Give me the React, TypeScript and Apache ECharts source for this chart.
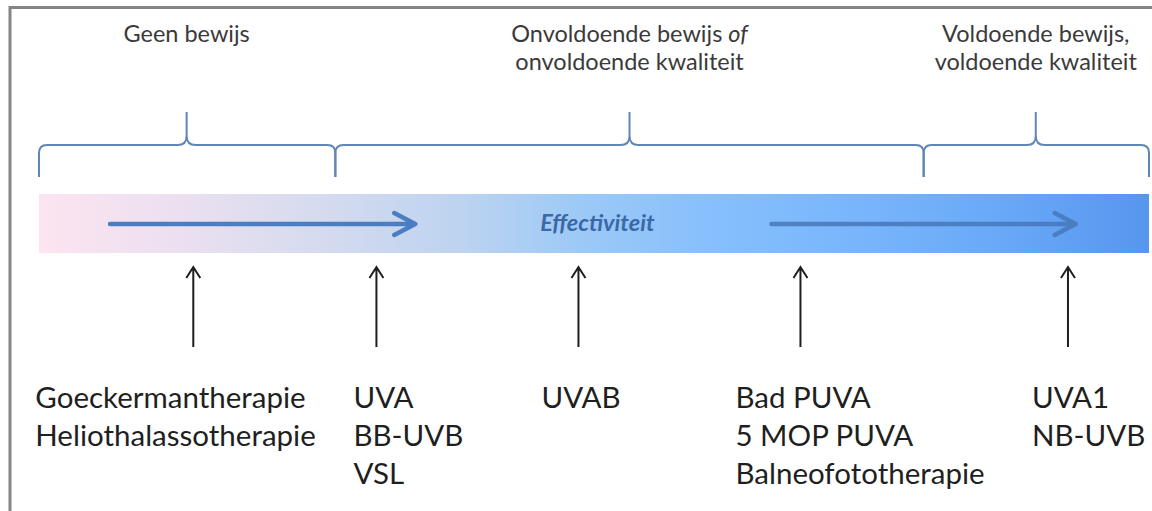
import { useEffect, useRef } from "react";
import * as echarts from "echarts";

// Evidence groups (positions on the effectiveness scale 0–100)
const groupLabels = [
  "Geen bewijs",
  "Onvoldoende bewijs {i|of}\nonvoldoende kwaliteit",
  "Voldoende bewijs,\nvoldoende kwaliteit",
];
const groupStart = [0, 26.7, 79.7];
const groupEnd = [26.7, 79.7, 100];
const groupPeak = [13.3, 53.2, 89.8];

// Effectiveness axis
const axisTitle = "Effectiviteit";
const axisTitlePos = 50.3;
const effectArrowStart = [6.4, 66.0];
const effectArrowEnd = [33.9, 93.4];

// Therapies and their place on the effectiveness scale
const therapyPos = [13.9, 30.4, 48.6, 68.6, 92.7];
const therapyLabels = [
  ["Goeckermantherapie", "Heliothalassotherapie"],
  ["UVA", "BB-UVB", "VSL"],
  ["UVAB"],
  ["Bad PUVA", "5 MOP PUVA", "Balneofototherapie"],
  ["UVA1", "NB-UVB"],
];

// layout (pixels)
const labelOffset = [-158, -23, -37, -65, -36];
const FONT = "Lato, 'Open Sans', sans-serif";

export default function App() {
  const ref = useRef<HTMLDivElement>(null);
  useEffect(() => {
    if (!ref.current) return;
    const chart = echarts.init(ref.current, undefined, { renderer: "svg" });
    const px = (api: any, v: number) => api.coord([v, 0])[0];

    const option: any = {
      animation: false,
      backgroundColor: "#ffffff",
      grid: { left: 39, right: 3, top: 0, bottom: 0 },
      xAxis: { type: "value", min: 0, max: 100, show: false },
      yAxis: { type: "value", min: 0, max: 1, show: false },
      graphic: [
        {
          type: "polyline",
          shape: { points: [[10, 511], [10, 7.5], [1152, 7.5]] },
          style: { stroke: "#858585", lineWidth: 3, fill: null },
          z: 0,
        },
      ],
      series: [
        // gradient band
        {
          type: "custom",
          z: 1,
          silent: true,
          data: [[0, 100]],
          renderItem: (params: any, api: any) => {
            const x0 = px(api, api.value(0));
            const x1 = px(api, api.value(1));
            return {
              type: "rect",
              shape: { x: x0, y: 194, width: x1 - x0, height: 59 },
              style: {
                fill: new echarts.graphic.LinearGradient(0, 0, 1, 0, [
                  { offset: 0, color: "#fde4f0" },
                  { offset: 0.12, color: "#ece0f0" },
                  { offset: 0.25, color: "#d6dbef" },
                  { offset: 0.38, color: "#bdd3f0" },
                  { offset: 0.48, color: "#9ecaf6" },
                  { offset: 0.6, color: "#87c0fc" },
                  { offset: 0.75, color: "#77b4fb" },
                  { offset: 0.88, color: "#67a7f6" },
                  { offset: 1, color: "#5796ee" },
                ]),
              },
            };
          },
        },
        // braces
        {
          type: "custom",
          z: 2,
          silent: true,
          data: groupStart.map((s, i) => [s, groupEnd[i], groupPeak[i]]),
          renderItem: (params: any, api: any) => {
            const a = px(api, api.value(0));
            const b = px(api, api.value(1));
            const p = px(api, api.value(2));
            const yH = 145, yB = 177, yT = 112, r = 8, rp = 9;
            const d =
              `M${a},${yB} L${a},${yH + r} Q${a},${yH} ${a + r},${yH} ` +
              `L${p - rp},${yH} Q${p},${yH} ${p},${yH - rp} L${p},${yT} ` +
              `M${p},${yH - rp} Q${p},${yH} ${p + rp},${yH} ` +
              `L${b - r},${yH} Q${b},${yH} ${b},${yH + r} L${b},${yB}`;
            return {
              type: "path",
              shape: { pathData: d },
              style: { stroke: "#5f86b4", lineWidth: 2, fill: null },
            };
          },
        },
        // header labels
        {
          type: "custom",
          z: 3,
          silent: true,
          data: groupPeak.map((p) => [p]),
          renderItem: (params: any, api: any) => {
            const x = px(api, api.value(0));
            return {
              type: "text",
              x,
              y: 19,
              style: {
                text: groupLabels[params.dataIndex],
                fill: "#3a3a3a",
                fontSize: 23.5,
                fontFamily: FONT,
                align: "center",
                verticalAlign: "top",
                lineHeight: 28,
                rich: {
                  i: { fontStyle: "italic", fontSize: 23.5, fontFamily: FONT, fill: "#3a3a3a", lineHeight: 28 },
                },
              },
            };
          },
        },
        // effect arrows
        {
          type: "custom",
          z: 3,
          silent: true,
          data: effectArrowStart.map((s, i) => [s, effectArrowEnd[i]]),
          renderItem: (params: any, api: any) => {
            const s = px(api, api.value(0));
            const e = px(api, api.value(1));
            const y = 224;
            const d = `M${s},${y} L${e},${y} M${e - 21},${y - 11} L${e},${y} L${e - 21},${y + 11}`;
            return {
              type: "path",
              shape: { pathData: d },
              style: {
                stroke: params.dataIndex === 0 ? "#4b7ec0" : "#4677b8",
                lineWidth: 4.5,
                fill: null,
                lineCap: "round",
                lineJoin: "round",
                opacity: params.dataIndex === 0 ? 1 : 0.85,
              },
            };
          },
        },
        // axis title
        {
          type: "custom",
          z: 4,
          silent: true,
          data: [[axisTitlePos]],
          renderItem: (params: any, api: any) => ({
            type: "text",
            x: px(api, api.value(0)),
            y: 222,
            style: {
              text: axisTitle,
              fill: "#3b68a6",
              fontSize: 23.5,
              fontStyle: "italic",
              fontWeight: "bold",
              fontFamily: FONT,
              align: "center",
              verticalAlign: "middle",
            },
          }),
        },
        // up arrows + therapy labels
        {
          type: "custom",
          z: 3,
          silent: true,
          data: therapyPos.map((p) => [p]),
          renderItem: (params: any, api: any) => {
            const x = px(api, api.value(0));
            const i = params.dataIndex;
            const yTip = 267, yEnd = 347;
            return {
              type: "group",
              children: [
                {
                  type: "path",
                  shape: {
                    pathData: `M${x},${yEnd} L${x},${yTip + 1} M${x - 7},${yTip + 11} L${x},${yTip} L${x + 7},${yTip + 11}`,
                  },
                  style: { stroke: "#1e1e1e", lineWidth: 2, fill: null },
                },
                {
                  type: "text",
                  x: x + labelOffset[i],
                  y: 377,
                  style: {
                    text: therapyLabels[i].join("\n"),
                    fill: "#1f1f1f",
                    fontSize: 29.5,
                    fontFamily: FONT,
                    align: "left",
                    verticalAlign: "top",
                    lineHeight: 38,
                  },
                },
              ],
            };
          },
        },
      ],
    };
    chart.setOption(option);
    return () => chart.dispose();
  }, []);
  return (
    <div
      ref={ref}
      style={{ position: "absolute", left: 0, top: 0, width: 1152, height: 511, background: "#fff" }}
    />
  );
}
